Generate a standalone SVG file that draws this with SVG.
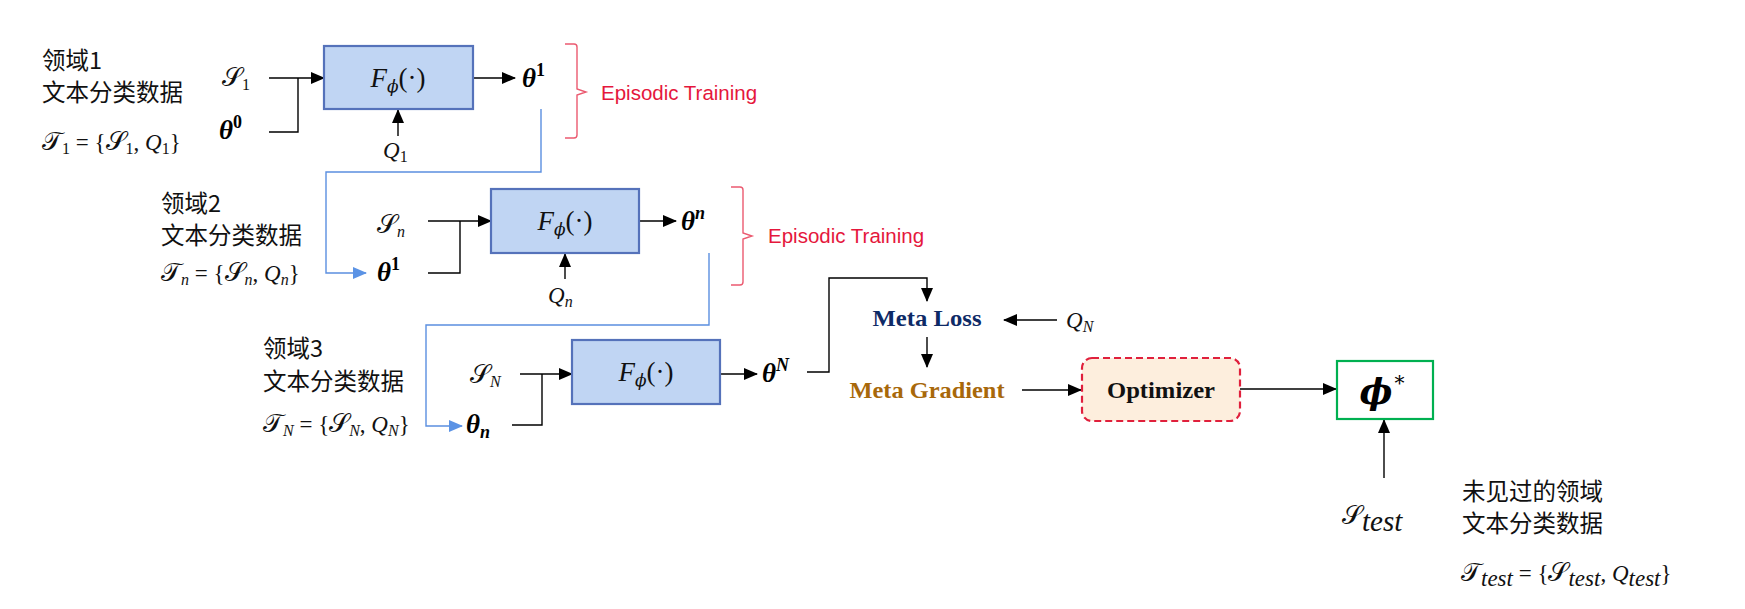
<svg xmlns="http://www.w3.org/2000/svg" width="1745" height="609" viewBox="0 0 1745 609">
<style>
.cjk{font-family:"Noto Sans CJK SC","Noto Sans",sans-serif;font-size:23.5px;fill:#111}
.m{font-family:"Liberation Serif","DejaVu Serif",serif;font-size:23px;font-style:italic;fill:#111}
.up{font-style:normal}
.cal{font-family:"DejaVu Sans","Noto Sans",sans-serif;font-style:normal;font-size:1.15em}
.f{font-family:"Liberation Serif","DejaVu Serif",serif;font-size:27px;font-style:italic;fill:#111}
.th{font-family:"Liberation Serif","DejaVu Serif",serif;font-size:27px;font-style:italic;font-weight:bold;fill:#000}
.box{fill:#C0D5F3;stroke:#5572BA;stroke-width:2.2}
.ln{fill:none;stroke:#000;stroke-width:1.4}
.bl{fill:none;stroke:#5B8FE0;stroke-width:1.4}
.br{fill:none;stroke:#EB5A70;stroke-width:1.4}
.ep{font-family:"Liberation Sans",Arial,sans-serif;font-size:20.5px;fill:#E5173C}
.bs{font-family:"Liberation Serif","DejaVu Serif",serif;font-size:23.5px;font-weight:bold}
</style>
<defs>
<marker id="ah" markerUnits="userSpaceOnUse" markerWidth="14" markerHeight="12" refX="13" refY="6" orient="auto"><path d="M0,0 L14,6 L0,12 Z" fill="#000"/></marker>
<marker id="ahb" markerUnits="userSpaceOnUse" markerWidth="14" markerHeight="12" refX="13" refY="6" orient="auto"><path d="M0,0 L14,6 L0,12 Z" fill="#5B93E5"/></marker>
</defs>

<g id="connectors">
<path class="ln" d="M269,78 H324" marker-end="url(#ah)"/>
<path class="ln" d="M269,132 H298 V78"/>
<path class="ln" d="M473,78 H515" marker-end="url(#ah)"/>
<path class="ln" d="M398,136 V110" marker-end="url(#ah)"/>
<path class="bl" d="M541,109 V172 H326 V273 H366" marker-end="url(#ahb)"/>
<path class="ln" d="M428,221 H491" marker-end="url(#ah)"/>
<path class="ln" d="M428,273 H460 V221"/>
<path class="ln" d="M639,221 H676" marker-end="url(#ah)"/>
<path class="ln" d="M565,279 V254" marker-end="url(#ah)"/>
<path class="bl" d="M709,253 V325 H426 V426 H462" marker-end="url(#ahb)"/>
<path class="ln" d="M520,374 H572" marker-end="url(#ah)"/>
<path class="ln" d="M512,425 H542 V374"/>
<path class="ln" d="M720,374 H757" marker-end="url(#ah)"/>
<path class="ln" d="M807,372 H829 V278 H927 V301" marker-end="url(#ah)"/>
<path class="ln" d="M1057,320 H1004" marker-end="url(#ah)"/>
<path class="ln" d="M927,337 V367" marker-end="url(#ah)"/>
<path class="ln" d="M1022,390 H1081" marker-end="url(#ah)"/>
<path class="ln" d="M1240,389 H1336" marker-end="url(#ah)"/>
<path class="ln" d="M1384,478 V420" marker-end="url(#ah)"/>
</g>

<g id="domain1">
<text class="cjk" x="42" y="69">领域1</text>
<text class="cjk" x="42" y="101">文本分类数据</text>
<text class="m" x="42" y="150"><tspan class="cal">𝒯</tspan><tspan class="up" font-size="16" dy="4">1</tspan><tspan class="up" dy="-4"> = {</tspan><tspan class="cal">𝒮</tspan><tspan class="up" font-size="16" dy="4">1</tspan><tspan class="up" dy="-4">, </tspan>Q<tspan class="up" font-size="16" dy="4">1</tspan><tspan class="up" dy="-4">}</tspan></text>
<text class="m" x="222" y="86"><tspan class="cal">𝒮</tspan><tspan class="up" font-size="16" dy="4">1</tspan></text>
<text class="th" x="219" y="139">θ<tspan class="up" font-size="18" dy="-11">0</tspan></text>
</g>

<g id="block1">
<rect class="box" x="324" y="46" width="149" height="63"/>
<text class="f" x="398" y="87" text-anchor="middle">F<tspan font-family="DejaVu Serif" font-size="17" dy="5">ϕ</tspan><tspan class="up" dy="-5">(·)</tspan></text>
</g>
<g id="theta1">
<text class="th" x="522" y="87">θ<tspan class="up" font-size="18" dy="-11">1</tspan></text>
<text class="m" x="383" y="158">Q<tspan class="up" font-size="16" dy="4">1</tspan></text>
</g>
<g id="episode1">
<path class="br" d="M565,44 H574 Q577,44 577,47 V89 L586,92 L577,95 V135 Q577,138 574,138 H565"/>
<text class="ep" x="601" y="100">Episodic Training</text>
</g>

<g id="domain2">
<text class="cjk" x="161" y="212">领域2</text>
<text class="cjk" x="161" y="244">文本分类数据</text>
<text class="m" x="161" y="281"><tspan class="cal">𝒯</tspan><tspan font-size="16" dy="4">n</tspan><tspan class="up" dy="-4"> = {</tspan><tspan class="cal">𝒮</tspan><tspan font-size="16" dy="4">n</tspan><tspan class="up" dy="-4">, </tspan>Q<tspan font-size="16" dy="4">n</tspan><tspan class="up" dy="-4">}</tspan></text>
<text class="m" x="377" y="233"><tspan class="cal">𝒮</tspan><tspan font-size="16" dy="4">n</tspan></text>
<text class="th" x="377" y="281">θ<tspan class="up" font-size="18" dy="-11">1</tspan></text>
</g>
<g id="block2">
<rect class="box" x="491" y="189" width="148" height="64"/>
<text class="f" x="565" y="230" text-anchor="middle">F<tspan font-family="DejaVu Serif" font-size="17" dy="5">ϕ</tspan><tspan class="up" dy="-5">(·)</tspan></text>
</g>
<g id="thetan">
<text class="th" x="681" y="230">θ<tspan font-size="18" dy="-11">n</tspan></text>
<text class="m" x="548" y="303">Q<tspan font-size="16" dy="4">n</tspan></text>
</g>
<g id="episode2">
<path class="br" d="M731,187 H740 Q743,187 743,190 V233 L752,236 L743,239 V282 Q743,285 740,285 H731"/>
<text class="ep" x="768" y="243">Episodic Training</text>
</g>

<g id="domain3">
<text class="cjk" x="263" y="357">领域3</text>
<text class="cjk" x="263" y="390">文本分类数据</text>
<text class="m" x="263" y="432"><tspan class="cal">𝒯</tspan><tspan font-size="16" dy="4">N</tspan><tspan class="up" dy="-4"> = {</tspan><tspan class="cal">𝒮</tspan><tspan font-size="16" dy="4">N</tspan><tspan class="up" dy="-4">, </tspan>Q<tspan font-size="16" dy="4">N</tspan><tspan class="up" dy="-4">}</tspan></text>
<text class="m" x="470" y="383"><tspan class="cal">𝒮</tspan><tspan font-size="16" dy="4">N</tspan></text>
<text class="th" x="466" y="433">θ<tspan font-size="18" dy="5">n</tspan></text>
</g>
<g id="block3">
<rect class="box" x="572" y="340" width="148" height="64"/>
<text class="f" x="646" y="381" text-anchor="middle">F<tspan font-family="DejaVu Serif" font-size="17" dy="5">ϕ</tspan><tspan class="up" dy="-5">(·)</tspan></text>
</g>
<g id="thetaN">
<text class="th" x="762" y="382">θ<tspan font-size="18" dy="-11">N</tspan></text>
</g>

<g id="metaloss">
<text class="bs" x="927" y="326" text-anchor="middle" fill="#0E2A66" textLength="109" lengthAdjust="spacingAndGlyphs">Meta Loss</text>
<text class="m" x="1066" y="328">Q<tspan font-size="16" dy="4">N</tspan></text>
</g>
<g id="metagradient">
<text class="bs" x="927" y="398" text-anchor="middle" fill="#A8680A" textLength="155" lengthAdjust="spacingAndGlyphs">Meta Gradient</text>
</g>
<g id="optimizer">
<rect x="1082" y="358" width="158" height="63" rx="10" fill="#FDEEDD" stroke="#E0203C" stroke-width="2.2" stroke-dasharray="7,4"/>
<text class="bs" x="1161" y="398" text-anchor="middle" fill="#111" textLength="108" lengthAdjust="spacingAndGlyphs">Optimizer</text>
</g>
<g id="phistar">
<rect x="1337" y="361" width="96" height="58" fill="#fff" stroke="#00B050" stroke-width="2.2"/>
<text x="1382" y="404" text-anchor="middle" font-family="DejaVu Serif" font-size="35" font-weight="bold" font-style="italic" fill="#000">ϕ<tspan font-size="20" font-weight="normal" font-style="normal" dx="2" dy="-14">*</tspan></text>
</g>
<g id="test">
<text class="m" x="1342" y="524" font-size="42"><tspan class="cal">𝒮</tspan><tspan font-size="29" dy="7">test</tspan></text>
<text class="cjk" x="1462" y="500">未见过的领域</text>
<text class="cjk" x="1462" y="532">文本分类数据</text>
<text class="m" x="1461" y="581" font-size="32"><tspan class="cal">𝒯</tspan><tspan font-size="23" dy="5">test</tspan><tspan class="up" dy="-5"> = {</tspan><tspan class="cal">𝒮</tspan><tspan font-size="23" dy="5">test</tspan><tspan class="up" dy="-5">, </tspan>Q<tspan font-size="23" dy="5">test</tspan><tspan class="up" dy="-5">}</tspan></text>
</g>
</svg>
